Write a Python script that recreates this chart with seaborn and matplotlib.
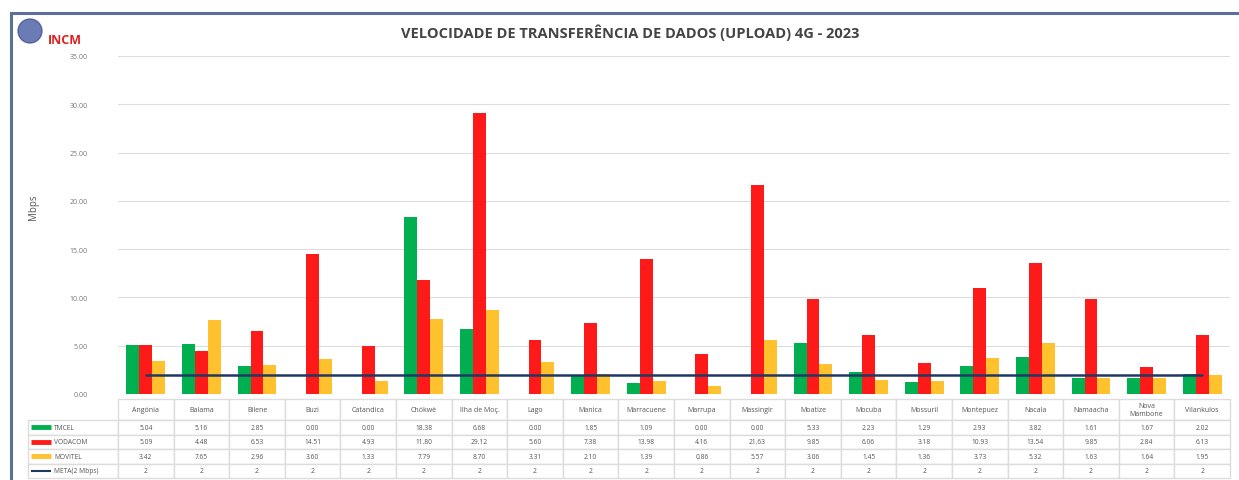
import numpy as np
import pandas as pd
import matplotlib.pyplot as plt
import seaborn as sns
from matplotlib.table import Table
from matplotlib.patches import Rectangle, Ellipse
from matplotlib.lines import Line2D

sns.set_style('white')
plt.rcParams['font.family'] = ['Open Sans', 'DejaVu Sans']

districts = ['Angónia', 'Balama', 'Bilene', 'Buzi', 'Catandica', 'Chókwè', 'Ilha de Moç.',
             'Lago', 'Manica', 'Marracuene', 'Marrupa', 'Massingir', 'Moatize', 'Mocuba',
             'Mossuril', 'Montepuez', 'Nacala', 'Namaacha', 'Nova\nMambone', 'Vilankulos']
tmcel = [5.04, 5.16, 2.85, 0.00, 0.00, 18.38, 6.68, 0.00, 1.85, 1.09,
         0.00, 0.00, 5.33, 2.23, 1.29, 2.93, 3.82, 1.61, 1.67, 2.02]
vodacom = [5.09, 4.48, 6.53, 14.51, 4.93, 11.80, 29.12, 5.60, 7.38, 13.98,
           4.16, 21.63, 9.85, 6.06, 3.18, 10.93, 13.54, 9.85, 2.84, 6.13]
movitel = [3.42, 7.65, 2.96, 3.60, 1.33, 7.79, 8.70, 3.31, 2.10, 1.39,
           0.86, 5.57, 3.06, 1.45, 1.36, 3.73, 5.32, 1.63, 1.64, 1.95]
meta = [2] * len(districts)

operators = ['TMCEL', 'VODACOM', 'MOVITEL']
colors = ['#00b050', '#ff1a1a', '#ffc12e']
meta_color = '#1f3864'

df = pd.DataFrame({'Distrito': districts, 'TMCEL': tmcel, 'VODACOM': vodacom, 'MOVITEL': movitel})
long_df = df.melt(id_vars='Distrito', var_name='Operador', value_name='Mbps')

W, H = 1239, 481
fig = plt.figure(figsize=(W / 100, H / 100), dpi=100)

# outer frame
fig.patches.append(Rectangle((11 / W, -0.1), 1.2, (H - 14) / H + 0.1, transform=fig.transFigure,
                             fill=False, edgecolor='#5a6f9e', linewidth=2.2))

x0, x1, ytop, ybot = 118, 1230, 57, 395
ax = fig.add_axes([x0 / W, (H - ybot) / H, (x1 - x0) / W, (ybot - ytop) / H])

sns.barplot(data=long_df, x='Distrito', y='Mbps', hue='Operador', hue_order=operators,
            palette=colors, width=0.7, saturation=1, linewidth=0, ax=ax, legend=False)
ax.plot(range(len(districts)), meta, color=meta_color, linewidth=1.8, zorder=5)

ax.set_ylim(0, 35)
ax.set_xlim(-0.5, len(districts) - 0.5)
ax.set_yticks(np.arange(0, 36, 5))
ax.set_yticklabels([f'{v:.2f}' for v in np.arange(0, 36, 5)], fontsize=5, color='#777777')
ax.yaxis.grid(True, color='#dddddd', linewidth=0.8)
ax.set_axisbelow(True)
ax.tick_params(axis='y', length=0, pad=22)
ax.set_xticks([])
ax.set_xlabel('')
ax.set_ylabel('')
for s in ax.spines.values():
    s.set_visible(False)

fig.text(33 / W, 1 - 207 / H, 'Mbps', rotation=90, fontsize=7, color='#555555', ha='center', va='center')
fig.text(630 / W, 1 - 33 / H, 'VELOCIDADE DE TRANSFERÊNCIA DE DADOS (UPLOAD) 4G - 2023',
         fontsize=10.5, fontweight='bold', color='#444444', ha='center', va='center')

# logo
fig.patches.append(Ellipse((30 / W, 1 - 32 / H), 24 / W, 24 / H, transform=fig.transFigure,
                           color='#3a4f9a', alpha=0.75))
fig.text(48 / W, 1 - 41 / H, 'INCM', fontsize=9, fontweight='bold', color='#e02020', ha='left', va='center')

# data table under the plot
tab_left, tab_top = 28, 400
col_w = (x1 - x0) / len(districts)
row_h = [21, 14.5, 14.5, 14.5, 14.5]
widths = [x0 - tab_left] + [col_w] * len(districts)
total_w = sum(widths)
total_h = sum(row_h)
tab_ax_left = (tab_left - x0) / (x1 - x0)
tab_ax_bottom = -(tab_top + total_h - ybot) / (ybot - ytop)
table = Table(ax, bbox=[tab_ax_left, tab_ax_bottom, total_w / (x1 - x0), total_h / (ybot - ytop)])

rows = [tmcel, vodacom, movitel, meta]
row_names = ['TMCEL', 'VODACOM', 'MOVITEL', 'META(2 Mbps)']
for j, name in enumerate(districts):
    c = table.add_cell(0, j + 1, width=col_w, height=row_h[0], text=name, loc='center')
    c.get_text().set_fontsize(5)
    c.get_text().set_color('#555555')
    c.set_edgecolor('#dcdcdc')
c = table.add_cell(0, 0, width=widths[0], height=row_h[0], text='')
c.set_edgecolor('none')
for i, vals in enumerate(rows):
    c = table.add_cell(i + 1, 0, width=widths[0], height=row_h[i + 1], text='')
    c.set_edgecolor('#dcdcdc')
    for j, v in enumerate(vals):
        txt = f'{v:.2f}' if i < 3 else f'{v}'
        c = table.add_cell(i + 1, j + 1, width=col_w, height=row_h[i + 1], text=txt, loc='center')
        c.get_text().set_fontsize(4.8)
        c.get_text().set_color('#555555')
        c.set_edgecolor('#dcdcdc')
table.auto_set_font_size(False)
ax.add_table(table)

# legend keys inside the row label cells
y = tab_top + row_h[0]
for i, name in enumerate(row_names):
    yc = 1 - (y + row_h[i + 1] / 2) / H
    col = colors[i] if i < 3 else meta_color
    lw = 3.5 if i < 3 else 1.5
    fig.lines.append(Line2D([31 / W, 51 / W], [yc, yc], transform=fig.transFigure, color=col,
                            linewidth=lw, solid_capstyle='butt'))
    fig.text(54 / W, yc, name, fontsize=4.8, color='#555555', ha='left', va='center')
    y += row_h[i + 1]

fig.savefig('out.png', dpi=100)
